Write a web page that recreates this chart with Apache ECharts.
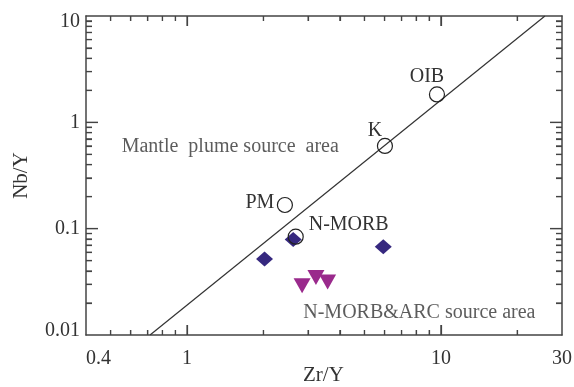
<!DOCTYPE html>
<html>
<head>
<meta charset="utf-8">
<script src="https://cdn.jsdelivr.net/npm/echarts@6/dist/echarts.min.js"></script>
<style>
  html, body { margin: 0; padding: 0; background: #fff; }
  #chart { width: 574px; height: 387px; }
</style>
</head>
<body>
<div id="chart"></div>
<script>
// Nb/Y vs Zr/Y discrimination plot (log-log)

// Reference compositions: [Zr/Y, Nb/Y]
const refNames = ['PM', 'N-MORB', 'K', 'OIB'];
const refZrY = [2.43, 2.68, 6.02, 9.65];
const refNbY = [0.167, 0.084, 0.60, 1.83];

// Samples, group 1 (diamonds)
const grp1ZrY = [2.02, 2.62, 5.93];
const grp1NbY = [0.0518, 0.0793, 0.0676];

// Samples, group 2 (inverted triangles)
const grp2ZrY = [2.84, 3.22, 3.58];
const grp2NbY = [0.0290, 0.0347, 0.0315];

// Dividing line endpoints
const divZrY = [0.715, 25.7];
const divNbY = [0.01, 10];

// Field labels and their anchor points
const fieldNames = ['Mantle  plume source  area', 'N-MORB&ARC source area'];
const fieldZrY = [0.553, 2.87];
const fieldNbY = [0.589, 0.01625];

// Axis ranges and ticks
const xRange = [0.4, 30];
const yRange = [0.01, 10];
const xTickLabels = [0.4, 1, 10, 30];
const xMajorTicks = [1, 10];
const xMinorTicks = [0.5, 0.6, 0.7, 0.8, 0.9, 2, 3, 4, 5, 6, 7, 8, 9, 20];
const yTickLabels = [0.01, 0.1, 1, 10];
const yMajorTicks = [0.1, 1];
const yMinorTicks = [0.02, 0.03, 0.04, 0.05, 0.06, 0.07, 0.08, 0.09,
                     0.2, 0.3, 0.4, 0.5, 0.6, 0.7, 0.8, 0.9,
                     2, 3, 4, 5, 6, 7, 8, 9];
const xTitle = 'Zr/Y';
const yTitle = 'Nb/Y';

const FONT = '"Liberation Serif", "Times New Roman", serif';
const INK = '#333';
const FRAME = '#444';

// Offsets of point labels relative to symbol centres (px)
const refLabelOffset = {
  'PM': [-25, -2],
  'N-MORB': [53, -12],
  'K': [-10, -15],
  'OIB': [-10, -18]
};

const fmt = v => String(+(+v).toPrecision(6));

// A log axis that only draws inward tick marks at the given values.
// The marks are drawn as small filled label boxes pulled inside the frame.
function tickAxis(position, range, values, len, showLine) {
  const vertical = position === 'left' || position === 'right';
  const mark = vertical
    ? { width: len, height: 1.2, lineHeight: 1.2, fontSize: 1, backgroundColor: FRAME }
    : { width: 1.2, height: len, lineHeight: len, fontSize: 1, backgroundColor: FRAME };
  return {
    type: 'log',
    logBase: 10,
    position: position,
    min: range[0],
    max: range[1],
    splitLine: { show: false },
    axisLine: { show: showLine, lineStyle: { color: FRAME, width: 1.5 } },
    axisTick: {
      show: true, inside: true, length: len,
      customValues: values,
      lineStyle: { color: FRAME, width: 1.2 }
    },
    axisLabel: {
      show: true,
      customValues: values,
      margin: -len,
      formatter: () => '{t| }',
      rich: { t: mark }
    }
  };
}

// Main axes: frame lines and tick labels
const xMain = {
  type: 'log',
  logBase: 10,
  position: 'bottom',
  min: xRange[0],
  max: xRange[1],
  splitLine: { show: false },
  axisLine: { show: true, lineStyle: { color: FRAME, width: 1.5 } },
  axisTick: { show: false },
  axisLabel: {
    show: true,
    customValues: xTickLabels,
    formatter: fmt,
    margin: 14,
    fontFamily: FONT, fontSize: 20, color: INK,
    alignMinLabel: 'left'
  }
};

const yMain = {
  type: 'log',
  logBase: 10,
  position: 'left',
  min: yRange[0],
  max: yRange[1],
  splitLine: { show: false },
  axisLine: { show: true, lineStyle: { color: FRAME, width: 1.5 } },
  axisTick: { show: false },
  name: yTitle,
  nameLocation: 'middle',
  nameGap: 54,
  nameTextStyle: { fontFamily: FONT, fontSize: 21, color: INK },
  axisLabel: {
    show: true,
    customValues: yTickLabels,
    margin: 6,
    fontFamily: FONT, fontSize: 20, color: INK,
    formatter: v => {
      const s = fmt(v);
      if (+v >= 10) return '{hi|' + s + '}';
      if (+v <= 0.01) return '{lo|' + s + '}';
      return s;
    },
    rich: {
      hi: { fontFamily: FONT, fontSize: 20, color: INK, padding: [12, 0, 0, 0] },
      lo: { fontFamily: FONT, fontSize: 20, color: INK, padding: [0, 0, 8, 0] }
    }
  }
};

const xAxes = [
  xMain,
  tickAxis('bottom', xRange, xMajorTicks, 10, false),
  tickAxis('bottom', xRange, xMinorTicks, 5, false),
  tickAxis('top', xRange, xMajorTicks, 10, true),
  tickAxis('top', xRange, xMinorTicks, 5, false)
];
const yAxes = [
  yMain,
  tickAxis('left', yRange, yMajorTicks, 12, false),
  tickAxis('left', yRange, yMinorTicks, 6, false),
  tickAxis('right', yRange, yMajorTicks, 12, true),
  tickAxis('right', yRange, yMinorTicks, 6, false)
];

const zip = (a, b) => a.map((v, i) => [v, b[i]]);

const refData = refNames.map((n, i) => ({
  name: n,
  value: [refZrY[i], refNbY[i]],
  label: { offset: refLabelOffset[n] }
}));

const fieldData = fieldNames.map((n, i) => ({
  name: n,
  value: [fieldZrY[i], fieldNbY[i]]
}));

const chart = echarts.init(document.getElementById('chart'), null, { renderer: 'canvas' });
chart.setOption({
  animation: false,
  backgroundColor: '#fff',
  // x-axis title, centred under the plot area
  title: {
    text: xTitle,
    left: 303,
    top: 365,
    padding: 0,
    itemGap: 0,
    textStyle: { fontFamily: FONT, fontSize: 21, fontWeight: 'normal', color: INK }
  },
  grid: {
    left: 86, right: 12, top: 16, bottom: 52,
    // generous outer bounds so the plot rectangle keeps its exact size
    outerBounds: { left: -100, top: -100, right: -100, bottom: -100 }
  },
  xAxis: xAxes,
  yAxis: yAxes,
  series: [
    {
      type: 'line',
      data: zip(divZrY, divNbY),
      symbol: 'none',
      silent: true,
      lineStyle: { color: '#333', width: 1.2 },
      z: 2
    },
    {
      type: 'scatter',
      data: zip(grp1ZrY, grp1NbY),
      symbol: 'diamond',
      symbolSize: [17, 15],
      itemStyle: { color: '#36287f', opacity: 1 },
      z: 3
    },
    {
      type: 'scatter',
      data: zip(grp2ZrY, grp2NbY),
      symbol: 'triangle',
      symbolRotate: 180,
      symbolSize: [17, 15],
      itemStyle: { color: '#9a2a8c', opacity: 1 },
      z: 3
    },
    {
      type: 'scatter',
      data: refData,
      symbol: 'circle',
      symbolSize: 15,
      itemStyle: { color: 'rgba(0,0,0,0)', borderColor: '#222', borderWidth: 1.2, opacity: 1 },
      label: {
        show: true,
        position: 'inside',
        formatter: '{b}',
        fontFamily: FONT, fontSize: 20, color: INK
      },
      z: 4
    },
    {
      type: 'scatter',
      data: fieldData,
      symbolSize: 0,
      silent: true,
      label: {
        show: true,
        position: 'right',
        distance: 0,
        formatter: '{b}',
        fontFamily: FONT, fontSize: 20, color: INK
      },
      z: 4
    }
  ]
});
</script>
</body>
</html>
